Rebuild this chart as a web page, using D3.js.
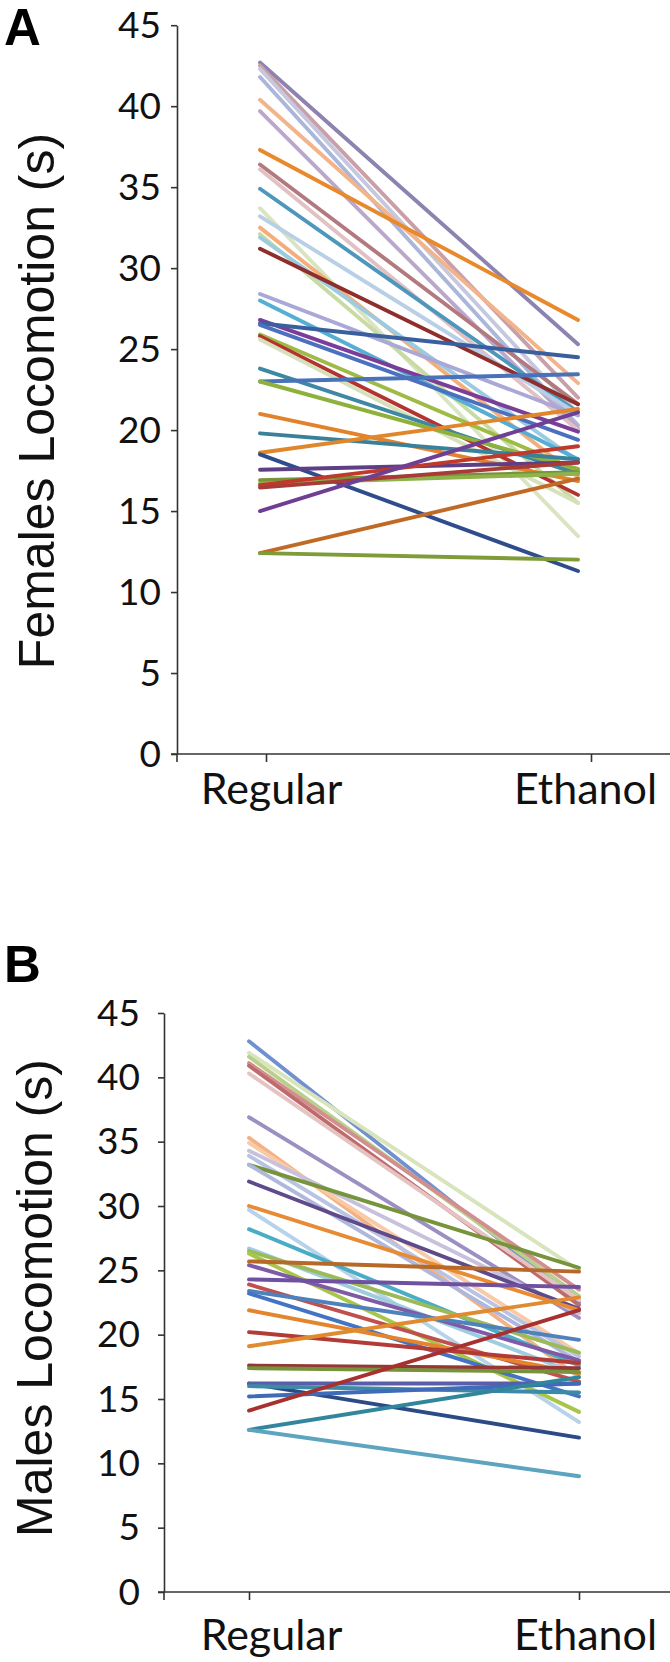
<!DOCTYPE html>
<html><head><meta charset="utf-8">
<script src="https://cdn.jsdelivr.net/npm/d3@7"></script>
<style>body{margin:0;background:#fff}svg{display:block}</style>
</head><body>
<svg id="c" width="670" height="1662"></svg>
<script>
const categories = ["Regular", "Ethanol"];
const yTickValues = [0, 5, 10, 15, 20, 25, 30, 35, 40, 45];

const femalesRegular = [42.7, 42.5, 42.3, 41.8, 40.4, 39.7, 37.3, 36.4, 36.1, 34.9, 33.7, 33.2, 32.5, 32.1, 31.9, 31.2, 28.4, 28.0, 26.8, 26.6, 26.5, 25.9, 25.8, 25.6, 23.8, 23.0, 23.0, 21.0, 19.8, 18.6, 18.5, 17.55, 16.9, 16.7, 16.6, 16.45, 15.0, 12.4, 12.4];
const femalesEthanol = [25.3, 22.0, 21.0, 20.3, 22.9, 20.1, 26.8, 21.6, 20.0, 21.1, 13.45, 21.0, 17.1, 15.5, 18.1, 21.6, 20.9, 18.2, 19.9, 24.5, 19.4, 17.5, 16.0, 15.5, 17.3, 23.45, 17.6, 16.85, 18.2, 21.3, 11.3, 18.0, 17.4, 17.3, 19.0, 18.0, 21.1, 17.0, 12.0];
const femalesColors = ["#8c83b0", "#c9a0a8", "#c6c8e0", "#aab6da", "#f2b48a", "#b9a8cc", "#e8892c", "#b27a7e", "#e2c0c4", "#4d97bd", "#d8e4c2", "#b8cfe6", "#f3ae7c", "#c8dba2", "#9bcbe0", "#8f2f2c", "#a9a8d6", "#56aed3", "#7b3e98", "#3a5f9e", "#4c70c0", "#9dbb45", "#b5332f", "#d6e1bb", "#3f88a3", "#4a72b8", "#8eb13c", "#e2822c", "#39809a", "#e0872c", "#2f4c8c", "#5e3f86", "#77923a", "#8db34a", "#c0392b", "#a83a38", "#6f3f96", "#c06a25", "#7f9b3a"];

const malesRegular = [42.8, 41.9, 41.6, 41.1, 40.9, 40.3, 36.9, 35.3, 34.9, 34.3, 33.9, 33.2, 33.2, 31.9, 30.0, 29.7, 28.2, 26.7, 26.5, 26.3, 25.7, 25.4, 24.3, 23.9, 23.4, 23.2, 21.9, 20.2, 19.1, 17.6, 17.4, 16.2, 16.2, 16.0, 15.2, 14.1, 12.6, 12.6];
const malesEthanol = [22.5, 25.0, 23.0, 23.5, 22.3, 22.7, 21.3, 16.7, 18.55, 21.65, 18.3, 25.2, 17.9, 22.0, 21.9, 13.2, 17.6, 16.9, 18.6, 14.0, 24.9, 18.0, 23.7, 16.35, 19.6, 15.2, 17.0, 17.8, 22.9, 17.4, 17.1, 12.0, 16.2, 15.5, 16.2, 21.9, 16.7, 9.0];
const malesColors = ["#7190d0", "#d8e4bc", "#b9d08a", "#d38f8f", "#c06b6b", "#e5c3c3", "#9c8fc2", "#f4b183", "#f9caa6", "#c7c1dd", "#b9c4e4", "#77933c", "#adb8dc", "#5f4a8b", "#e88b35", "#b7d3ea", "#4bacc6", "#9fcde0", "#9bbb59", "#a8c64a", "#b7692a", "#7f5ba6", "#7050a0", "#c0504d", "#4f81bd", "#4472c4", "#e3852d", "#b23a37", "#e08b30", "#953735", "#77933c", "#2c4a86", "#5a5ea8", "#3c8aa5", "#3f6cb8", "#a8312e", "#31859c", "#5ca4c0"];

const svg = d3.select("#c");
const tickFont = "Lato, 'Open Sans', sans-serif";

function panel(o) {
  const g = svg.append("g");
  const y = d3.scaleLinear().domain([0, 45]).range([o.y0, o.y45]);
  const xLine = d3.scalePoint().domain(categories).range(o.lineRange);
  const xTick = d3.scalePoint().domain(categories).range(o.tickRange);
  const xLabel = d3.scalePoint().domain(categories).range(o.labelRange);

  const rows = o.reg.map((v, i) => ({ a: v, b: o.eth[i], c: o.colors[i] }));
  const line = d3.line().x(d => xLine(d[0])).y(d => y(d[1]));
  g.selectAll("path.s").data(rows).join("path")
    .attr("class", "s")
    .attr("d", d => line([[categories[0], d.a], [categories[1], d.b]]))
    .attr("fill", "none").attr("stroke", d => d.c)
    .attr("stroke-width", 3.9).attr("stroke-linecap", "round");

  const ya = g.append("g").attr("transform", `translate(${o.axisX},0)`)
    .call(d3.axisLeft(y).tickValues(yTickValues).tickSize(6).tickSizeOuter(0).tickPadding(o.yPad));
  ya.select(".domain").attr("stroke", "#333").attr("stroke-width", 1.6);
  ya.selectAll(".tick line").attr("stroke", "#333").attr("stroke-width", 1.6);
  ya.selectAll(".tick text").attr("font-family", tickFont).attr("font-size", 37)
    .attr("fill", "#111").attr("dy", "0.33em");

  g.append("line").attr("x1", o.axisX).attr("x2", o.axisX)
    .attr("y1", o.y0).attr("y2", o.y0 + 8).attr("stroke", "#333").attr("stroke-width", 1.6);

  // x axis ticks
  const xa = g.append("g").attr("transform", `translate(0,${o.y0})`)
    .call(d3.axisBottom(xTick).tickSize(8).tickSizeOuter(0).tickFormat(""));
  xa.select(".domain").remove();
  xa.selectAll(".tick line").attr("stroke", "#333").attr("stroke-width", 1.6);
  g.append("line").attr("x1", o.axisX - 6).attr("x2", 670)
    .attr("y1", o.y0).attr("y2", o.y0).attr("stroke", "#333").attr("stroke-width", 1.6);

  // x axis labels
  const xl = g.append("g").attr("transform", `translate(0,${o.y0})`)
    .call(d3.axisBottom(xLabel).tickSize(0).tickPadding(o.xPad));
  xl.select(".domain").remove();
  xl.selectAll(".tick text").attr("font-family", tickFont).attr("font-size", 43).attr("fill", "#111");

  g.append("text").attr("transform", `translate(${o.titleX},${o.titleY}) rotate(-90)`)
    .attr("text-anchor", "middle").attr("font-family", "'Liberation Sans', Arial, sans-serif")
    .attr("font-size", 50).attr("fill", "#111").text(o.title);

  g.append("text").attr("x", 4).attr("y", o.letterY)
    .attr("font-family", "'Liberation Sans', Arial, sans-serif").attr("font-weight", "bold")
    .attr("font-size", 51).attr("fill", "#000").text(o.letter);
}

panel({
  letter: "A", letterY: 45, title: "Females Locomotion (s)", titleX: 54, titleY: 401,
  y0: 754, y45: 25.2, axisX: 177, lineRange: [260, 578], tickRange: [266, 591],
  labelRange: [271, 585], yPad: 10, xPad: 19,
  reg: femalesRegular, eth: femalesEthanol, colors: femalesColors
});
panel({
  letter: "B", letterY: 982, title: "Males Locomotion (s)", titleX: 52, titleY: 1298,
  y0: 1592, y45: 1013, axisX: 164, lineRange: [249, 579], tickRange: [249, 579],
  labelRange: [271, 585], yPad: 18, xPad: 27,
  reg: malesRegular, eth: malesEthanol, colors: malesColors
});
</script>
</body></html>
